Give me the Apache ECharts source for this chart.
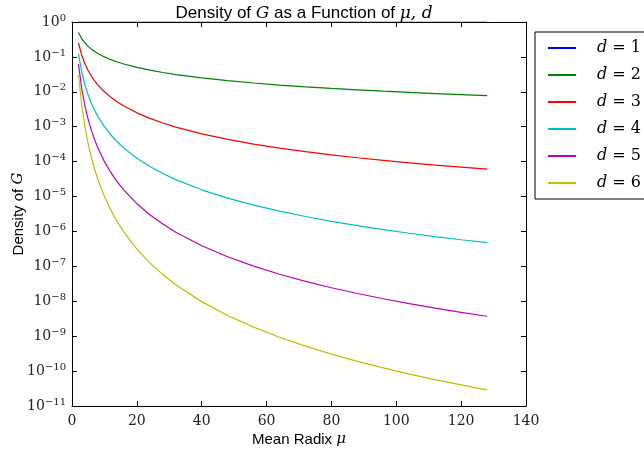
<!DOCTYPE html>
<html><head><meta charset="utf-8">
<script src="https://cdn.jsdelivr.net/npm/echarts@6/dist/echarts.min.js"></script>
<style>html,body{margin:0;padding:0;background:#fff}#c{width:644px;height:454px}</style>
</head><body><div id="c"></div>
<script>
const mu = [2,3,4,5,6,7,8,10,12,14,16,20,24,28,32,40,48,56,64,72,80,88,96,104,112,120,128];
const d1 = [1,1,1,1,1,1,1,1,1,1,1,1,1,1,1,1,1,1,1,1,1,1,1,1,1,1,1];
const d2 = [0.5,0.333,0.25,0.2,0.1667,0.1429,0.125,0.1,0.0833,0.0714,0.0625,0.05,0.0417,0.0357,0.03125,0.025,0.0208,0.0179,0.0156,0.0139,0.0125,0.0114,0.0104,0.00962,0.00893,0.00833,0.00781];
const d3 = [0.25,0.111,0.0625,0.04,0.0278,0.0204,0.0156,0.01,6.94e-3,5.10e-3,3.91e-3,2.5e-3,1.74e-3,1.28e-3,9.77e-4,6.25e-4,4.34e-4,3.19e-4,2.44e-4,1.93e-4,1.56e-4,1.29e-4,1.09e-4,9.25e-5,7.97e-5,6.94e-5,6.10e-5];
const d4 = [0.125,0.037,0.0156,8e-3,4.63e-3,2.92e-3,1.95e-3,1e-3,5.79e-4,3.64e-4,2.44e-4,1.25e-4,7.23e-5,4.56e-5,3.05e-5,1.56e-5,9.04e-6,5.69e-6,3.81e-6,2.68e-6,1.95e-6,1.47e-6,1.13e-6,8.89e-7,7.12e-7,5.79e-7,4.77e-7];
const d5 = [0.0625,0.0123,3.91e-3,1.6e-3,7.72e-4,4.16e-4,2.44e-4,1e-4,4.82e-5,2.60e-5,1.53e-5,6.25e-6,3.01e-6,1.63e-6,9.54e-7,3.91e-7,1.88e-7,1.02e-7,5.96e-8,3.72e-8,2.44e-8,1.67e-8,1.18e-8,8.55e-9,6.36e-9,4.82e-9,3.73e-9];
const d6 = [0.03125,4.12e-3,9.77e-4,3.2e-4,1.29e-4,5.95e-5,3.05e-5,1e-5,4.02e-6,1.86e-6,9.54e-7,3.13e-7,1.26e-7,5.81e-8,2.98e-8,9.77e-9,3.92e-9,1.82e-9,9.31e-10,5.17e-10,3.05e-10,1.90e-10,1.23e-10,8.22e-11,5.67e-11,4.02e-11,2.91e-11];
const seriesNames = ['d1','d2','d3','d4','d5','d6'];
const seriesData = [d1,d2,d3,d4,d5,d6];
const colors = ['#0000ff','#008000','#ff0000','#00bfbf','#bf00bf','#bfbf00'];
const xTicks = [0,20,40,60,80,100,120,140];

const serif = 'DejaVu Serif';
const sans = 'Liberation Sans';
const chart = echarts.init(document.getElementById('c'));
const supRich = {
  b: {fontFamily: serif, fontSize: 14, color: '#222'},
  s: {fontFamily: serif, fontSize: 10, color: '#222', verticalAlign: 'bottom', padding: [0,0,8,0]}
};
const axisCommon = {
  axisLine: {show: true, onZero: false, lineStyle: {color: '#000', width: 1}},
  axisTick: {show: true, inside: true, length: 5, lineStyle: {color: '#000'}},
  minorTick: {show: false},
  splitLine: {show: false},
  z: 10
};
chart.setOption({
  animation: false,
  backgroundColor: '#fff',
  color: colors,
  title: {
    text: 'Density of {i|G} as a Function of {i|μ, d}',
    left: 299, top: 0, textAlign: 'center',
    textStyle: {fontFamily: sans, fontSize: 17, fontWeight: 'normal', color: '#000',
      rich: {i: {fontFamily: serif, fontStyle: 'italic', fontSize: 17, color: '#000'}}}
  },
  legend: {
    orient: 'vertical', left: 535, top: 32,
    padding: [8, 14, 8, 13],
    borderColor: '#000', borderWidth: 1, borderRadius: 0, backgroundColor: '#fff',
    itemWidth: 28, itemHeight: 2, itemGap: 11, icon: 'rect',
    formatter: function(n){ return '{i|d} = ' + n.slice(1); },
    textStyle: {fontFamily: serif, fontSize: 16, color: '#000', padding: [0,0,0,16],
      rich: {i: {fontFamily: serif, fontStyle: 'italic', fontSize: 16, color: '#000'}}},
    data: seriesNames
  },
  grid: {left: 72, right: 118, top: 22, bottom: 48, outerBoundsMode: 'none', containLabel: false},
  xAxis: [
    Object.assign({}, axisCommon, {
      type: 'value', min: 0, max: 140, interval: 20, position: 'bottom',
      name: 'Mean Radix {i|μ}', nameLocation: 'middle', nameGap: 26, nameMoveOverlap: false,
      nameTextStyle: {fontFamily: sans, fontSize: 15, color: '#000',
        rich: {i: {fontFamily: serif, fontStyle: 'italic', fontSize: 15, color: '#000'}}},
      axisLabel: {fontFamily: serif, fontSize: 14, color: '#222', margin: 8,
        formatter: function(v){ return xTicks.indexOf(v) >= 0 ? String(v) : ''; }}
    }),
    Object.assign({}, axisCommon, {
      type: 'value', min: 0, max: 140, interval: 20, position: 'top', axisLabel: {show: false}
    })
  ],
  yAxis: [
    Object.assign({}, axisCommon, {
      type: 'log', logBase: 10, min: 1e-11, max: 1, interval: 1, position: 'left',
      name: 'Density of {i|G}', nameLocation: 'middle', nameGap: 46, nameMoveOverlap: false,
      nameTextStyle: {fontFamily: sans, fontSize: 15, color: '#000',
        rich: {i: {fontFamily: serif, fontStyle: 'italic', fontSize: 15, color: '#000'}}},
      axisLabel: {margin: 6, rich: supRich, showMinLabel: true, showMaxLabel: true,
        formatter: function(v){ const e = Math.round(Math.log10(v)); return '{b|10}{s|' + (e < 0 ? '\u2212' + (-e) : e) + '}'; }}
    }),
    Object.assign({}, axisCommon, {
      type: 'log', logBase: 10, min: 1e-11, max: 1, interval: 1, position: 'right', axisLabel: {show: false}
    })
  ],
  series: seriesData.map(function(arr, i){
    return {
      name: seriesNames[i], type: 'line', showSymbol: false, symbol: 'none',
      lineStyle: {width: 1.2, color: colors[i]}, z: 2,
      data: mu.map(function(x, j){ return [x, arr[j]]; })
    };
  })
});
</script>
</body></html>
